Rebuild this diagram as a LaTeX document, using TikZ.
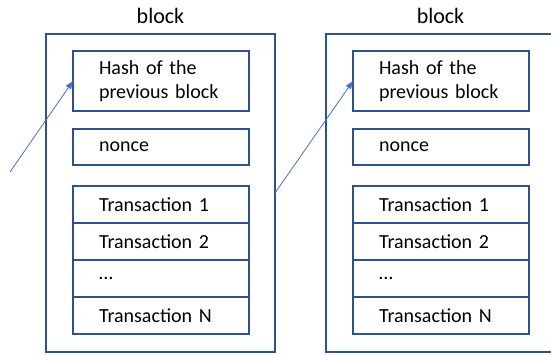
\documentclass[tikz,border=0pt]{standalone}
\usepackage{fontspec}
\setmainfont{Carlito}
\usepackage{tikz}
\usetikzlibrary{positioning, arrows.meta}

\definecolor{boxblue}{HTML}{2F528F}
\definecolor{linkblue}{HTML}{4472C4}

\begin{document}
\begin{tikzpicture}[x=1pt, y=1pt,
   outerbox/.style={draw=boxblue, line width=1.2pt, outer sep=0pt, inner sep=0pt,
      minimum width=229pt, minimum height=318pt},
   blocklabel/.style={font=\fontsize{22}{26}\selectfont, label distance=7pt},
   field/.style={draw=boxblue, line width=1.4pt, outer sep=0pt, inner xsep=26pt, inner ysep=0pt,
      text width=124pt, align=left, font=\fontsize{20}{24}\selectfont},
   link/.style={draw=linkblue, line width=0.8pt, -{Triangle[length=8pt, width=6pt]}}]
   \useasboundingbox (0,0) rectangle (551,-354);

   % 两个区块
   \node[outerbox, anchor=north west, label={[blocklabel]above:block}] (blk1) at (46,-34) {};
   \node[outerbox, right=51pt of blk1, label={[blocklabel]above:block}] (blk2) {};

   % 第一个区块的内容
   \node[field, minimum height=60pt, below right=17pt and 27pt of blk1.north west] (hash1) {Hash of the\\previous block};
   \node[field, minimum height=36pt] (nonce1) [below=18pt of hash1] {nonce};
   \node[field, minimum height=37pt] (tx1a) [below=21pt of nonce1] {Transaction 1};
   \node[field, minimum height=37pt] (tx1b) [below=0pt of tx1a] {Transaction 2};
   \node[field, minimum height=37pt] (tx1c) [below=0pt of tx1b] {\dots};
   \node[field, minimum height=37pt] (tx1n) [below=0pt of tx1c] {Transaction N};

   % 第二个区块的内容
   \node[field, minimum height=60pt, below right=17pt and 27pt of blk2.north west] (hash2) {Hash of the\\previous block};
   \node[field, minimum height=36pt] (nonce2) [below=18pt of hash2] {nonce};
   \node[field, minimum height=37pt] (tx2a) [below=21pt of nonce2] {Transaction 1};
   \node[field, minimum height=37pt] (tx2b) [below=0pt of tx2a] {Transaction 2};
   \node[field, minimum height=37pt] (tx2c) [below=0pt of tx2b] {\dots};
   \node[field, minimum height=37pt] (tx2n) [below=0pt of tx2c] {Transaction N};

   % 指向前一个区块的哈希
   \coordinate (prev) at (10,-172);
   \draw[link] (prev) -- (hash1.west);
   \draw[link] (blk1.east) -- (hash2.west);
\end{tikzpicture}
\end{document}
